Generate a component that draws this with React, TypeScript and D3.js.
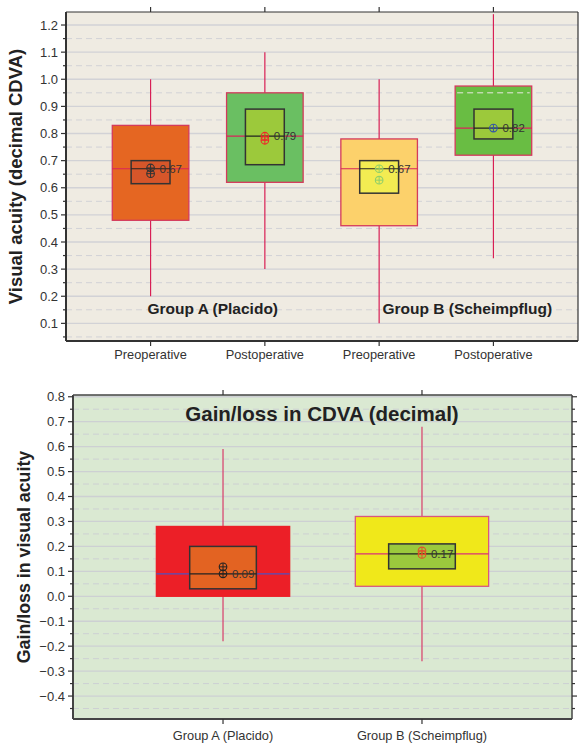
import { useEffect, useRef } from 'react';
import * as d3 from 'd3';

// top panel: CDVA pre/post per group
const topLabels = ['Preoperative', 'Postoperative', 'Preoperative', 'Postoperative'];
const topWhiskerLow = [0.2, 0.3, 0.1, 0.34];
const topQ1 = [0.48, 0.62, 0.46, 0.72];
const topMedian = [0.67, 0.79, 0.67, 0.82];
const topQ3 = [0.83, 0.95, 0.78, 0.975];
const topWhiskerHigh = [1.0, 1.1, 1.0, 1.24];
const topCiLow = [0.615, 0.685, 0.58, 0.78];
const topCiHigh = [0.70, 0.89, 0.70, 0.89];
const topMeans = [[0.673, 0.652], [0.79, 0.775], [0.67, 0.628], [0.82]];
const topOuterFill = ['#e56622', '#6abf62', '#fcd16b', '#69bd43'];
const topInnerFill = ['#d6562a', '#9cc93b', '#f3ec52', '#9cc93b'];
const topMarkerColor = ['#333333', '#ee2a2a', '#8fcf6a', '#3556a8'];
const groupLabels = ['Group A (Placido)', 'Group B (Scheimpflug)'];

// bottom panel: gain/loss
const botLabels = ['Group A (Placido)', 'Group B (Scheimpflug)'];
const botWhiskerLow = [-0.18, -0.26];
const botQ1 = [0.0, 0.04];
const botMedian = [0.09, 0.17];
const botQ3 = [0.28, 0.32];
const botWhiskerHigh = [0.59, 0.68];
const botCiLow = [0.03, 0.11];
const botCiHigh = [0.20, 0.21];
const botMeans = [[0.118, 0.09], [0.182, 0.168]];
const botOuterFill = ['#ec1f27', '#f0e81a'];
const botOuterStroke = ['#ec1f27', '#d9577f'];
const botMedianColor = ['#5050c0', '#d9307a'];
const botInnerFill = ['#e36322', '#9bc93d'];
const botMarkerColor = ['#222222', '#e0502a'];

const topTicks = d3.range(1, 13).map(d => d / 10);
const topMinor = d3.range(0, 13).map(d => d / 10 + 0.05);
const botTicks = d3.range(-4, 9).map(d => d / 10);
const botMinor = d3.range(-5, 8).map(d => d / 10 + 0.05);

const fmtTick = (v: number) => (v < 0 ? '\u2212' : '') + Math.abs(v).toFixed(1);

const App = () => {
    const svgRef = useRef<SVGSVGElement>(null);

    useEffect(() => {
        const svg = d3.select(svgRef.current);
        svg.selectAll('*').remove();
        const font = 'Arial, "Liberation Sans", sans-serif';

        const marker = (g: any, cx: number, cy: number, color: string) => {
            g.append('circle').attr('cx', cx).attr('cy', cy).attr('r', 3.8)
                .attr('fill', 'none').attr('stroke', color).attr('stroke-width', 1.1);
            g.append('line').attr('x1', cx - 3.8).attr('x2', cx + 3.8).attr('y1', cy).attr('y2', cy)
                .attr('stroke', color).attr('stroke-width', 1);
            g.append('line').attr('x1', cx).attr('x2', cx).attr('y1', cy - 3.8).attr('y2', cy + 3.8)
                .attr('stroke', color).attr('stroke-width', 1);
        };

        // ---------- top panel ----------
        const tL = 66, tR = 578, tT = 12, tB = 341;
        const xTop = d3.scalePoint<number>().domain([0, 1, 2, 3]).range([tL, tR]).padding(0.74);
        const yTop = d3.scaleLinear().domain([0.035, 1.248]).range([tB, tT]);
        const g1 = svg.append('g');

        g1.append('rect').attr('x', tL).attr('y', tT).attr('width', tR - tL).attr('height', tB - tT)
            .attr('fill', '#efebe2');
        g1.selectAll('.minor').data(topMinor.filter(v => v < 1.248)).enter().append('line')
            .attr('x1', tL).attr('x2', tR).attr('y1', d => yTop(d)).attr('y2', d => yTop(d))
            .attr('stroke', '#d2d2d6').attr('stroke-dasharray', '6,4').attr('stroke-width', 1);
        g1.selectAll('.major').data(topTicks).enter().append('line')
            .attr('x1', tL).attr('x2', tR).attr('y1', d => yTop(d)).attr('y2', d => yTop(d))
            .attr('stroke', '#d2d2d6').attr('stroke-width', 1.3);

        topLabels.forEach((_, i) => {
            const cx = xTop(i)!;
            const step = xTop.step();
            const ow = step * 0.67, iw = step * 0.34;
            g1.append('line').attr('x1', cx).attr('x2', cx)
                .attr('y1', yTop(topWhiskerLow[i])).attr('y2', yTop(topWhiskerHigh[i]))
                .attr('stroke', '#d81f55').attr('stroke-width', 1.2);
            g1.append('rect').attr('x', cx - ow / 2).attr('y', yTop(topQ3[i]))
                .attr('width', ow).attr('height', yTop(topQ1[i]) - yTop(topQ3[i]))
                .attr('fill', topOuterFill[i]).attr('stroke', '#d43a5c').attr('stroke-width', 1.3);
            if (i === 3) {
                g1.append('line').attr('x1', cx - ow / 2 + 2).attr('x2', cx + ow / 2 - 2)
                    .attr('y1', yTop(0.95)).attr('y2', yTop(0.95))
                    .attr('stroke', '#e8e8e0').attr('stroke-dasharray', '6,4');
            }
            g1.append('line').attr('x1', cx - ow / 2).attr('x2', cx + ow / 2)
                .attr('y1', yTop(topMedian[i])).attr('y2', yTop(topMedian[i]))
                .attr('stroke', '#d8245a').attr('stroke-width', 1.2);
            g1.append('rect').attr('x', cx - iw / 2).attr('y', yTop(topCiHigh[i]))
                .attr('width', iw).attr('height', yTop(topCiLow[i]) - yTop(topCiHigh[i]))
                .attr('fill', topInnerFill[i]).attr('stroke', '#333').attr('stroke-width', 1.5);
            g1.append('line').attr('x1', cx - iw / 2).attr('x2', cx + iw / 2)
                .attr('y1', yTop(topMedian[i])).attr('y2', yTop(topMedian[i]))
                .attr('stroke', '#222').attr('stroke-width', 1.2);
            topMeans[i].forEach(m => marker(g1, cx, yTop(m), topMarkerColor[i]));
            g1.append('text').attr('x', cx + 9).attr('y', yTop(topMedian[i]) + 4)
                .attr('font-family', font).attr('font-size', 11.5).attr('fill', '#333')
                .text(topMedian[i].toFixed(2));
        });

        groupLabels.forEach((t, k) => {
            const cx = (xTop(k * 2)! + xTop(k * 2 + 1)!) / 2 + (k === 0 ? 5 : 31);
            g1.append('text').attr('x', cx).attr('y', yTop(0.155) + 5.5).attr('text-anchor', 'middle')
                .attr('font-family', font).attr('font-size', 15.5).attr('font-weight', 'bold')
                .attr('fill', '#222').text(t);
        });

        // frame
        g1.append('line').attr('x1', tL).attr('x2', tR).attr('y1', tT).attr('y2', tT).attr('stroke', '#333').attr('stroke-width', 1.2);
        g1.append('line').attr('x1', tL).attr('x2', tR).attr('y1', tB).attr('y2', tB).attr('stroke', '#333').attr('stroke-width', 2);
        g1.append('line').attr('x1', tL).attr('x2', tL).attr('y1', tT).attr('y2', tB).attr('stroke', '#333').attr('stroke-width', 2);
        g1.append('line').attr('x1', tR).attr('x2', tR).attr('y1', tT).attr('y2', tB).attr('stroke', '#333').attr('stroke-width', 1.2);

        // ticks
        g1.selectAll('.yt').data(topTicks).enter().append('line')
            .attr('x1', tL - 5).attr('x2', tL).attr('y1', d => yTop(d)).attr('y2', d => yTop(d))
            .attr('stroke', '#333').attr('stroke-width', 1.2);
        g1.selectAll('.ym').data(topMinor.filter(v => v < 1.248)).enter().append('line')
            .attr('x1', tL - 3).attr('x2', tL).attr('y1', d => yTop(d)).attr('y2', d => yTop(d))
            .attr('stroke', '#333').attr('stroke-width', 1.2);
        g1.selectAll('.yl').data(topTicks).enter().append('text')
            .attr('x', tL - 8).attr('y', d => yTop(d) + 4.5).attr('text-anchor', 'end')
            .attr('font-family', font).attr('font-size', 13).attr('fill', '#333')
            .text(d => fmtTick(d));
        topLabels.forEach((t, i) => {
            const cx = xTop(i)!;
            g1.append('line').attr('x1', cx).attr('x2', cx).attr('y1', tB).attr('y2', tB + 5).attr('stroke', '#333').attr('stroke-width', 1.2);
            g1.append('line').attr('x1', cx).attr('x2', cx).attr('y1', tT).attr('y2', tT - 5).attr('stroke', '#333').attr('stroke-width', 1.2);
            g1.append('text').attr('x', cx).attr('y', tB + 18).attr('text-anchor', 'middle')
                .attr('font-family', font).attr('font-size', 12.8).attr('fill', '#333').text(t);
        });
        g1.append('text').attr('transform', `translate(22,${(tT + tB) / 2}) rotate(-90)`)
            .attr('text-anchor', 'middle').attr('font-family', font).attr('font-size', 18.5)
            .attr('font-weight', 'bold').attr('fill', '#222').text('Visual acuity (decimal CDVA)');

        // ---------- bottom panel ----------
        const bL = 73, bR = 572, bT = 395, bB = 719;
        const xBot = d3.scalePoint<number>().domain([0, 1]).range([bL, bR]).padding(0.754);
        const yBot = d3.scaleLinear().domain([-0.492, 0.807]).range([bB, bT]);
        const g2 = svg.append('g');

        g2.append('rect').attr('x', bL).attr('y', bT).attr('width', bR - bL).attr('height', bB - bT)
            .attr('fill', '#dae9d2');
        g2.selectAll('.minor').data(botMinor).enter().append('line')
            .attr('x1', bL).attr('x2', bR).attr('y1', d => yBot(d)).attr('y2', d => yBot(d))
            .attr('stroke', '#cdd0d3').attr('stroke-dasharray', '6,4').attr('stroke-width', 1);
        g2.selectAll('.major').data(botTicks).enter().append('line')
            .attr('x1', bL).attr('x2', bR).attr('y1', d => yBot(d)).attr('y2', d => yBot(d))
            .attr('stroke', '#cdd0d3').attr('stroke-width', 1.3);

        g2.append('text').attr('x', 322).attr('y', 421).attr('text-anchor', 'middle')
            .attr('font-family', font).attr('font-size', 20.5).attr('font-weight', 'bold')
            .attr('fill', '#222').text('Gain/loss in CDVA (decimal)');

        botLabels.forEach((_, i) => {
            const cx = xBot(i)!;
            const step = xBot.step();
            const ow = step * 0.67, iw = step * 0.335;
            g2.append('line').attr('x1', cx).attr('x2', cx)
                .attr('y1', yBot(botWhiskerLow[i])).attr('y2', yBot(botWhiskerHigh[i]))
                .attr('stroke', '#d84a72').attr('stroke-width', 1.3);
            g2.append('rect').attr('x', cx - ow / 2).attr('y', yBot(botQ3[i]))
                .attr('width', ow).attr('height', yBot(botQ1[i]) - yBot(botQ3[i]))
                .attr('fill', botOuterFill[i]).attr('stroke', botOuterStroke[i]).attr('stroke-width', 1.3);
            g2.append('line').attr('x1', cx - ow / 2).attr('x2', cx + ow / 2)
                .attr('y1', yBot(botMedian[i])).attr('y2', yBot(botMedian[i]))
                .attr('stroke', botMedianColor[i]).attr('stroke-width', 1.3);
            g2.append('rect').attr('x', cx - iw / 2).attr('y', yBot(botCiHigh[i]))
                .attr('width', iw).attr('height', yBot(botCiLow[i]) - yBot(botCiHigh[i]))
                .attr('fill', botInnerFill[i]).attr('stroke', '#333').attr('stroke-width', 1.5);
            g2.append('line').attr('x1', cx - iw / 2).attr('x2', cx + iw / 2)
                .attr('y1', yBot(botMedian[i])).attr('y2', yBot(botMedian[i]))
                .attr('stroke', '#222').attr('stroke-width', 1.2);
            botMeans[i].forEach(m => marker(g2, cx, yBot(m), botMarkerColor[i]));
            g2.append('text').attr('x', cx + 9).attr('y', yBot(botMedian[i]) + 4)
                .attr('font-family', font).attr('font-size', 11.5).attr('fill', '#333')
                .text(botMedian[i].toFixed(2));
        });

        g2.append('line').attr('x1', bL).attr('x2', bR).attr('y1', bT).attr('y2', bT).attr('stroke', '#444').attr('stroke-width', 1.3);
        g2.append('line').attr('x1', bL).attr('x2', bR).attr('y1', bB).attr('y2', bB).attr('stroke', '#444').attr('stroke-width', 2);
        g2.append('line').attr('x1', bL).attr('x2', bL).attr('y1', bT).attr('y2', bB).attr('stroke', '#444').attr('stroke-width', 2);
        g2.append('line').attr('x1', bR).attr('x2', bR).attr('y1', bT).attr('y2', bB).attr('stroke', '#444').attr('stroke-width', 1.5);

        g2.selectAll('.yt').data(botTicks).enter().append('line')
            .attr('x1', bL - 5).attr('x2', bL).attr('y1', d => yBot(d)).attr('y2', d => yBot(d))
            .attr('stroke', '#333').attr('stroke-width', 1.2);
        g2.selectAll('.ym').data(botMinor).enter().append('line')
            .attr('x1', bL - 3).attr('x2', bL).attr('y1', d => yBot(d)).attr('y2', d => yBot(d))
            .attr('stroke', '#333').attr('stroke-width', 1.2);
        g2.selectAll('.yrt').data(botTicks).enter().append('line')
            .attr('x1', bR).attr('x2', bR + 5).attr('y1', d => yBot(d)).attr('y2', d => yBot(d))
            .attr('stroke', '#333').attr('stroke-width', 1.2);
        g2.selectAll('.yrm').data(botMinor).enter().append('line')
            .attr('x1', bR).attr('x2', bR + 3).attr('y1', d => yBot(d)).attr('y2', d => yBot(d))
            .attr('stroke', '#333').attr('stroke-width', 1.2);
        g2.selectAll('.yl').data(botTicks).enter().append('text')
            .attr('x', bL - 8).attr('y', d => yBot(d) + 4.5).attr('text-anchor', 'end')
            .attr('font-family', font).attr('font-size', 13).attr('fill', '#333')
            .text(d => fmtTick(d));
        botLabels.forEach((t, i) => {
            const cx = xBot(i)!;
            g2.append('line').attr('x1', cx).attr('x2', cx).attr('y1', bB).attr('y2', bB + 5).attr('stroke', '#333').attr('stroke-width', 1.2);
            g2.append('line').attr('x1', cx).attr('x2', cx).attr('y1', bT).attr('y2', bT - 5).attr('stroke', '#333').attr('stroke-width', 1.2);
            g2.append('text').attr('x', cx).attr('y', bB + 21).attr('text-anchor', 'middle')
                .attr('font-family', font).attr('font-size', 12.8).attr('fill', '#333').text(t);
        });
        g2.append('text').attr('transform', `translate(30,${(bT + bB) / 2}) rotate(-90)`)
            .attr('text-anchor', 'middle').attr('font-family', font).attr('font-size', 17.8)
            .attr('font-weight', 'bold').attr('fill', '#222').text('Gain/loss in visual acuity');
    }, []);

    return (
        <svg ref={svgRef} width={579} height={745}
            style={{ position: 'absolute', left: 0, top: 0, background: '#fff' }}></svg>
    );
};

export default App;
